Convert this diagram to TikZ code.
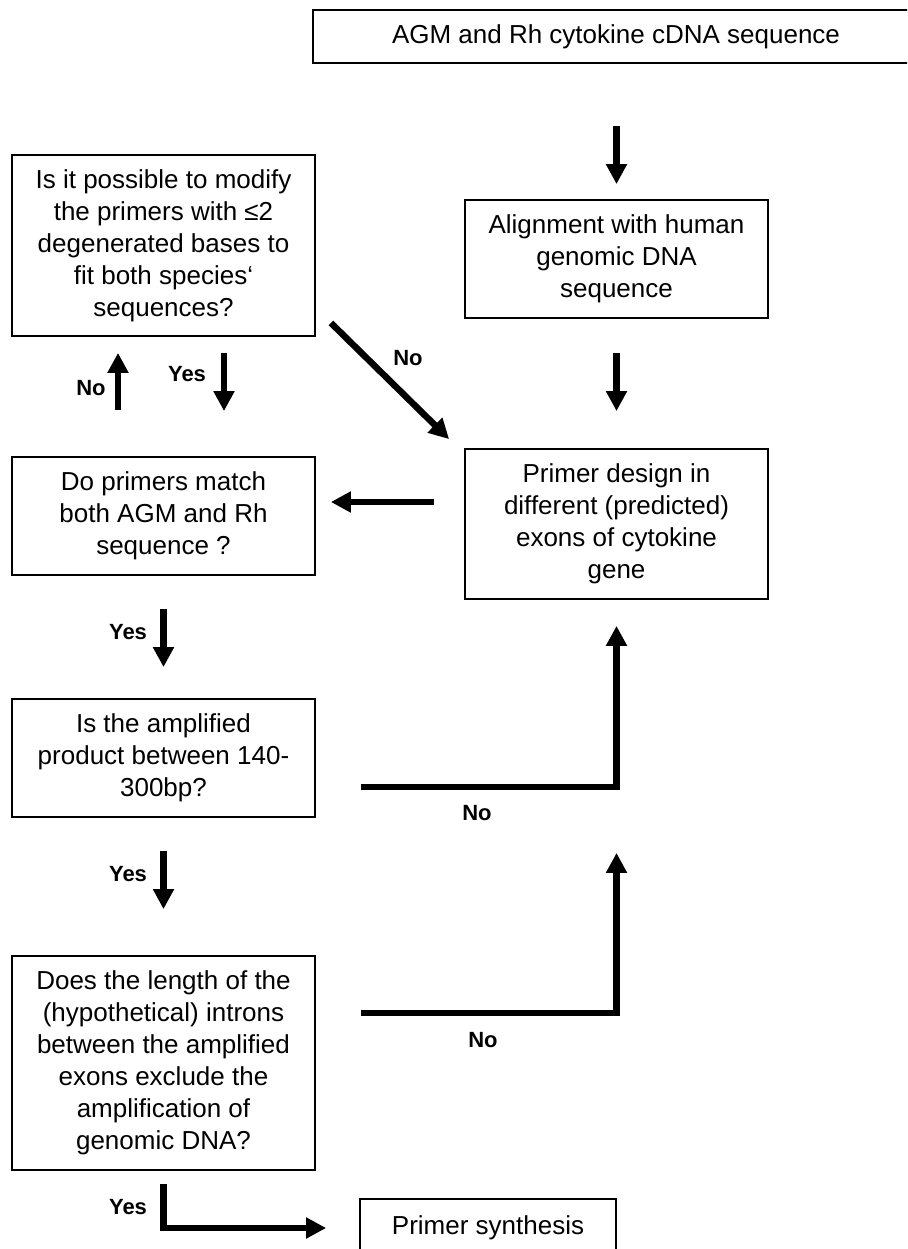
\documentclass[tikz,border=0pt]{standalone}
\usepackage{fontspec}
\setmainfont{Liberation Sans}
\usetikzlibrary{arrows.meta,calc,positioning}
\tikzset{
  every node/.style={font=\fontsize{26}{32}\selectfont, text=black},
  box/.style={draw=black, line width=1.8pt, align=center, minimum width=303pt, inner sep=4pt},
  flow/.style={-{Triangle[length=20pt,width=20pt]}, draw=black, line width=6.5pt},
  answer/.style={font=\fontsize{22}{26}\selectfont\bfseries},
}

\begin{document}
\begin{tikzpicture}[x=1pt,y=-1pt]
  \useasboundingbox (0,0) rectangle (907,1249);
  \clip (0,0) rectangle (907,1249);
  % Right column
  \node[box, minimum width=606pt, minimum height=53pt] (src) at (616,36.5) {AGM and Rh cytokine cDNA sequence};
  \node[box, minimum height=118pt] (align) at (616.5,259) {Alignment with human\\genomic DNA\\sequence};
  \node[box, minimum height=150pt] (design) at (616.5,524) {Primer design in\\different (predicted)\\exons of cytokine\\gene};
  % Left column
  \node[box, minimum height=181pt] (modify) at (163.5,245.5) {Is it possible to modify\\the primers with ≤2\\degenerated bases to\\fit both species‘\\sequences?};
  \node[box, minimum height=118pt] (match) at (163.5,516) {Do primers match\\both AGM and Rh\\sequence ?};
  \node[box, minimum height=118pt] (size) at (163.5,758) {Is the amplified\\product between 140-\\300bp?};
  \node[box, minimum height=214pt] (intron) at (163.5,1063) {Does the length of the\\(hypothetical) introns\\between the amplified\\exons exclude the\\amplification of\\genomic DNA?};
  \node[box, minimum width=256pt, minimum height=58pt] (synth) at (488,1228) {Primer synthesis};
  % Arrows
  \draw[flow, shorten <=62pt, shorten >=15pt] (align.north |- src.south) -- (align.north);
  \draw[flow, shorten <=34pt, shorten >=37pt] (align) -- (design);
  \draw[flow, shorten <=30pt, shorten >=15pt] ([yshift=22pt]design.west) -- ([yshift=22pt]design.west -| match.east);
  \draw[flow] ($(modify.south east)+(15,-14)$) -- ($(design.north west)+(-15,-9)$);
  \draw[flow, shorten <=46pt, shorten >=16pt] ([xshift=-45.5pt]match.north) -- ([xshift=-45.5pt]modify.south);
  \draw[flow, shorten <=16pt, shorten >=45pt] ([xshift=60.5pt]modify.south) -- ([xshift=60.5pt]match.north);
  \draw[flow, shorten <=33pt, shorten >=31pt] (match) -- (size);
  \draw[flow, shorten <=33pt, shorten >=46pt] (size) -- (intron);
  \draw[flow, shorten <=45pt, shorten >=26pt] ([yshift=-29pt]size.east) -| (design.south);
  \draw[flow, shorten <=45pt, shorten >=253pt] ([yshift=50pt]intron.east) -| (design.south);
  \draw[flow, shorten <=13pt, shorten >=33pt] (intron.south) |- (synth.west);
  % Answers
  \node[answer] (noup) at (91,388) {No};
  \node[answer] (yesdown) at (187,374) {Yes};
  \node[answer] (nodiag) at (408,358) {No};
  \node[answer] (yesmatch) at (128,632) {Yes};
  \node[answer] (nosize) at (477,813) {No};
  \node[answer] (yessize) at (128,874) {Yes};
  \node[answer] (nointron) at (483,1040) {No};
  \node[answer] (yesintron) at (128,1207) {Yes};
\end{tikzpicture}
\end{document}
